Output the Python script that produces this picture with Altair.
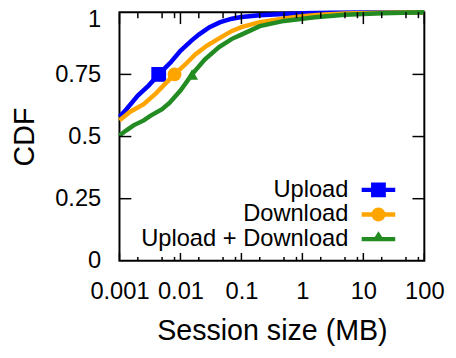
import altair as alt
import pandas as pd

series_names = ["Upload", "Download", "Upload + Download"]
series_colors = ["#0000ff", "#ffa500", "#228b22"]
marker_shapes = ["square", "circle", "triangle-up"]
marker_sizes = [225, 196, 150]

upload_x = [0.001, 0.0013, 0.002, 0.003, 0.0044, 0.007, 0.01, 0.015, 0.02, 0.03, 0.045, 0.07, 0.1, 0.2, 0.5, 1, 3, 10, 100]
upload_cdf = [0.58, 0.61, 0.665, 0.705, 0.75, 0.80, 0.845, 0.885, 0.91, 0.94, 0.96, 0.974, 0.981, 0.988, 0.993, 0.996, 0.998, 0.999, 1.0]

download_x = [0.001, 0.0015, 0.0025, 0.004, 0.0055, 0.008, 0.012, 0.0175, 0.027, 0.043, 0.07, 0.1, 0.2, 0.5, 1, 2, 5, 20, 100]
download_cdf = [0.565, 0.60, 0.63, 0.675, 0.71, 0.75, 0.79, 0.83, 0.865, 0.895, 0.925, 0.94, 0.96, 0.975, 0.984, 0.99, 0.995, 0.998, 1.0]

combined_x = [0.001, 0.0013, 0.0017, 0.0025, 0.0032, 0.005, 0.0066, 0.01, 0.0155, 0.025, 0.043, 0.07, 0.1, 0.2, 0.5, 1.6, 5, 20, 100]
combined_cdf = [0.504, 0.525, 0.545, 0.565, 0.583, 0.61, 0.635, 0.685, 0.75, 0.81, 0.86, 0.893, 0.91, 0.944, 0.965, 0.98, 0.99, 0.996, 1.0]

marker_x = [0.0044, 0.008, 0.0155]
marker_cdf = [0.75, 0.75, 0.75]

x_major = [0.001, 0.01, 0.1, 1, 10, 100]
x_minor = [m * d for d in [0.001, 0.01, 0.1, 1, 10] for m in (2, 5, 8)]
y_labels = [0, 0.25, 0.5, 0.75, 1]
y_ticks = [0.25, 0.5, 0.75]

W, H = 309, 252
FONT = "Liberation Sans"

xscale = alt.Scale(type="log", domain=[0.001, 100], nice=False)
yscale = alt.Scale(domain=[0, 1], nice=False, zero=False)
xaxis = alt.Axis(values=x_major, labelExpr="toString(datum.value)", title="Session size (MB)",
                 ticks=False, domain=False, grid=False, labelFlush=False,
                 labelOverlap=False, labelPadding=19, titlePadding=14)
yaxis = alt.Axis(values=y_labels, labelExpr="toString(datum.value)", title="CDF", ticks=False,
                 domain=False, grid=False, labelFlush=False, labelOverlap=False,
                 labelOffset={"condition": {"test": "datum.value == 1", "value": 7}, "value": 0},
                 labelPadding=19, titlePadding=15)

xs = [upload_x, download_x, combined_x]
ys = [upload_cdf, download_cdf, combined_cdf]

layers = []
for i, name in enumerate(series_names):
    df = pd.DataFrame({"x": xs[i], "cdf": ys[i]})
    layers.append(alt.Chart(df).mark_line(color=series_colors[i], strokeWidth=4.5).encode(
        x=alt.X("x:Q", scale=xscale, axis=xaxis),
        y=alt.Y("cdf:Q", scale=yscale, axis=yaxis)))
    mdf = pd.DataFrame({"x": [marker_x[i]], "cdf": [marker_cdf[i]]})
    layers.append(alt.Chart(mdf).mark_point(
        shape=marker_shapes[i], filled=True, size=marker_sizes[i], opacity=1,
        color=series_colors[i]).encode(
        x=alt.X("x:Q", scale=xscale, axis=xaxis),
        y=alt.Y("cdf:Q", scale=yscale, axis=yaxis)))

# tick marks (inward, gnuplot-style)
xmaj = pd.DataFrame({"x": x_major})
xmin = pd.DataFrame({"x": x_minor})
ytk = pd.DataFrame({"cdf": y_ticks})
tick_specs = [
    (xmaj, "x", H, H - 8), (xmaj, "x", 0, 12),
    (xmin, "x", H, H - 4), (xmin, "x", 0, 6),
    (ytk, "y", 0, 12), (ytk, "y", W, W - 12),
]
for data, ch, a, b in tick_specs:
    if ch == "x":
        enc = dict(x=alt.X("x:Q", scale=xscale, axis=xaxis), y=alt.value(a), y2=alt.value(b))
    else:
        enc = dict(y=alt.Y("cdf:Q", scale=yscale, axis=yaxis), x=alt.value(a), x2=alt.value(b))
    layers.append(alt.Chart(data).mark_rule(color="black", strokeWidth=1.5).encode(**enc))

# legend (symbols built as line + marker paths)
line_path = "M-1.7,-0.22H1.7V0.22H-1.7Z"
legend_paths = [
    line_path + " M-0.75,-0.75H0.75V0.75H-0.75Z",
    line_path + " M-0.7,0A0.7,0.7,0,1,1,0.7,0A0.7,0.7,0,1,1,-0.7,0Z",
    line_path + " M0,-0.8L0.65,0.22L-0.65,0.22Z",
]
leg = alt.Legend(title=None, orient="none", legendX=250.5, legendY=168,
                 labelAlign="right", labelOffset={"expr": "-42.5"}, labelFontSize=24,
                 labelFont=FONT, labelColor="black", labelLimit=400,
                 symbolSize=400, symbolStrokeWidth=0, rowPadding=1,
                 padding=0, symbolOffset=0)
ldf = pd.DataFrame({"series": series_names})
layers.append(alt.Chart(ldf).mark_point(filled=True, opacity=1, size=400, clip=True).encode(
    x=alt.value(0), y=alt.value(-300),
    color=alt.Color("series:N", scale=alt.Scale(domain=series_names, range=series_colors), legend=leg),
    shape=alt.Shape("series:N", scale=alt.Scale(domain=series_names, range=legend_paths), legend=leg),
))

chart = alt.layer(*layers).properties(
    width=W, height=H,
    autosize=alt.AutoSizeParams(type="none"),
    padding={"left": 113, "top": 2, "right": 24, "bottom": 84},
).configure_view(stroke="black", strokeWidth=2).configure_axis(
    labelFont=FONT, labelFontSize=24, labelColor="black",
    titleFont=FONT, titleFontSize=29, titleFontWeight="normal", titleColor="black",
)

chart.save("out.html", embed_options={"renderer": "svg", "actions": False})
